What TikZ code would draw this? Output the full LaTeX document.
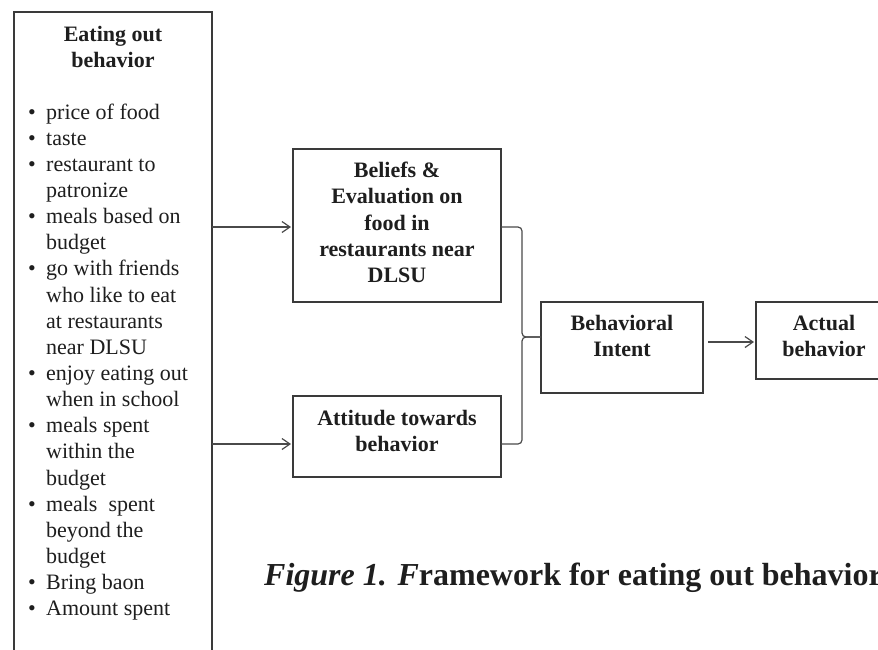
\documentclass[tikz,border=0pt]{standalone}
\usepackage{fontspec}
\setmainfont{Liberation Serif}
\usetikzlibrary{arrows.meta}
\definecolor{boxline}{HTML}{3A3A3A}
\definecolor{conline}{HTML}{4A4A4A}
\definecolor{ink}{HTML}{1E1E1E}
\tikzset{
  frame/.style={draw=boxline, line width=1.3pt, inner sep=0pt, outer sep=0pt},
  heading/.style={font=\fontsize{22}{26.2}\selectfont\bfseries, align=center, inner sep=0pt, text=ink},
  listline/.style={font=\fontsize{22}{26.2}\selectfont, anchor=base west, inner sep=0pt, text=ink},
  bulletmark/.style={font=\fontsize{22}{26.2}\selectfont, anchor=base, inner sep=0pt, text=ink},
  link/.style={draw=conline, line width=1.2pt},
  arrowlink/.style={link, shorten >=2pt, -{Straight Barb[length=8pt,width=11pt,line width=1.2pt]}},
  captext/.style={font=\fontsize{32}{36}\selectfont\bfseries, anchor=base west, inner sep=0pt, text=ink}
}
\begin{document}
\begin{tikzpicture}[x=1pt,y=-1pt]
\useasboundingbox (0,0) rectangle (878,649);
\clip (0,0) rectangle (878,649);
\fill[white] (0,0) rectangle (878,649);

% left box (open at the bottom, runs off the page)
\node[frame, minimum width=198pt, minimum height=700pt, anchor=north west] (eob) at (14,12) {};
\node[heading, anchor=north] (eobt) at (113,26) {Eating out\\behavior};

\foreach \txt [count=\i] in {price of food, taste, restaurant to, patronize, meals based on, budget, go with friends, who like to eat, at restaurants, near DLSU, enjoy eating out, when in school, meals spent, within the, budget, meals\ \ spent, beyond the, budget, Bring baon, Amount spent}
  \node[listline] (li\i) at (46,{119+(\i-1)*26.15}) {\txt};
\foreach \i in {1,2,3,5,7,11,13,16,19,20}
  \node[bulletmark] (bu\i) at (32,{119+(\i-1)*26.15}) {\textbullet};

% boxes
\node[frame, minimum width=208pt, minimum height=153pt] (bel) at (397,225.5) {};
\node[heading, anchor=north] (belt) at (397,162) {Beliefs \&\\Evaluation on\\food in\\restaurants near\\DLSU};

\node[frame, minimum width=208pt, minimum height=81pt] (att) at (397,436.5) {};
\node[heading, anchor=north] (attt) at (397,410) {Attitude towards\\behavior};

\node[frame, minimum width=162pt, minimum height=91pt] (beh) at (622,347.5) {};
\node[heading, anchor=north] (beht) at (622,315) {Behavioral\\Intent};

\node[frame, minimum width=150pt, minimum height=77pt] (act) at (831,340.5) {};
\node[heading, anchor=north] (actt) at (824,315) {Actual\\behavior};

% connectors
\coordinate (a1) at (0,227);
\coordinate (a2) at (0,444);
\coordinate (a3) at (0,342);
\coordinate (bk) at (522,337);
\draw[arrowlink] (eob.east |- a1) -- (bel.west |- a1);
\draw[arrowlink] (eob.east |- a2) -- (att.west |- a2);
\draw[link, rounded corners=4pt] (bel.east |- a1) -- (bk |- a1) -- (bk) -- (beh.west |- bk);
\draw[link, rounded corners=4pt] (att.east |- a2) -- (bk |- a2) -- (bk) -- (beh.west |- bk);
\draw[arrowlink] ([xshift=5pt]beh.east |- a3) -- (act.west |- a3);

% caption
\node[captext] (cap) at (264,585) {\textit{Figure 1. F}ramework for eating out behavior};
\end{tikzpicture}
\end{document}
